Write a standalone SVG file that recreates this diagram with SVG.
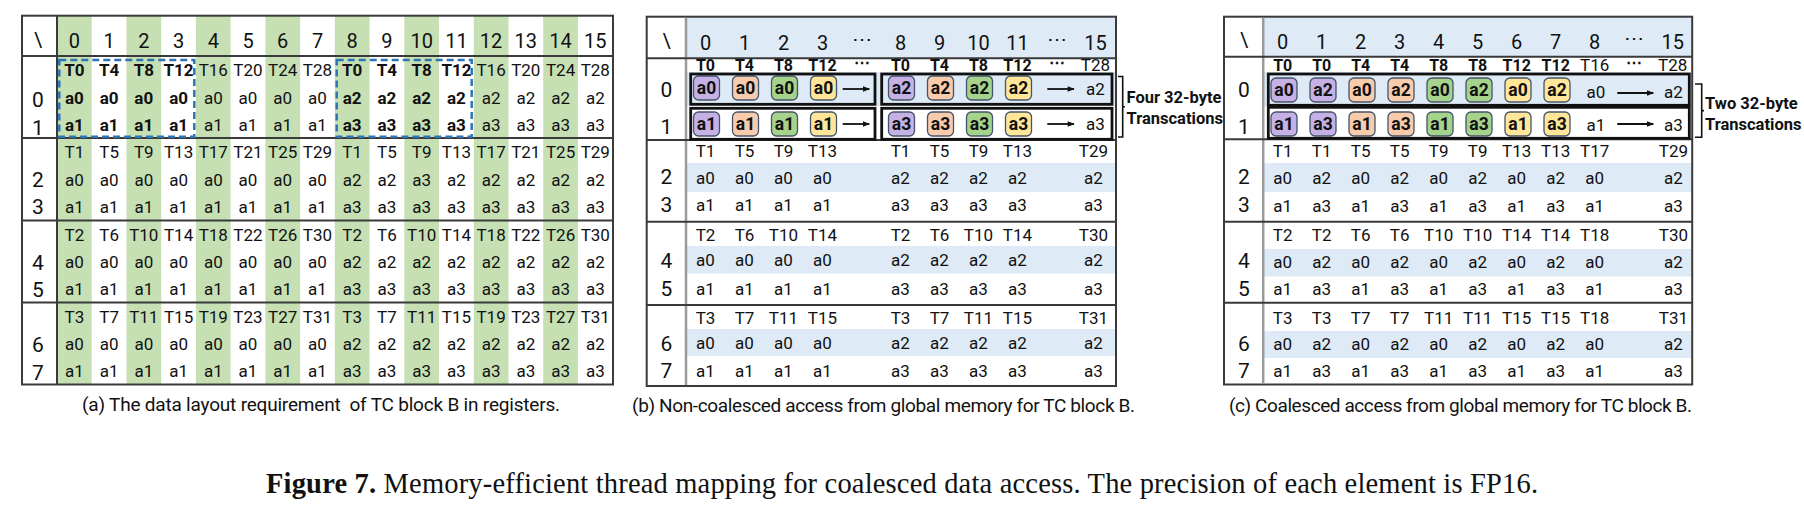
<svg xmlns="http://www.w3.org/2000/svg" width="1804" height="514" viewBox="0 0 1804 514">
<defs>
<style>
text{font-family:Roboto,"Liberation Sans",sans-serif;fill:#111}
.c{font-size:17px;text-anchor:middle;dominant-baseline:central}
.h{font-size:20px;text-anchor:middle;dominant-baseline:central}
.rl{font-size:21px;text-anchor:middle;dominant-baseline:central}
.b{font-weight:bold}
.th{font-size:16px;font-weight:bold;text-anchor:middle;dominant-baseline:central}
.ch{font-size:17.5px;font-weight:bold;text-anchor:middle;dominant-baseline:central}
.cap{font-size:19px;dominant-baseline:central}
.grid{fill:none;stroke:#3a3a3a;stroke-width:2}
.ln{stroke:#3a3a3a;stroke-width:2}
.sep{stroke:#9a9a9a;stroke-width:2.5}
.green{fill:#c6e0b4}
.blue{fill:#deeaf6}
.dash{fill:none;stroke:#2e75b6;stroke-width:2.5;stroke-dasharray:7 4}
.box{fill:none;stroke:#111;stroke-width:2.8}
.k{stroke:#44546a;stroke-width:1.3}
.p{fill:#c5b1e5}.o{fill:#f8cbad}.g{fill:#a5d38c}.y{fill:#ffe699}
.arr{stroke:#111;stroke-width:1.8;marker-end:url(#ah)}
.brk{fill:none;stroke:#111;stroke-width:1.6}
.lab{font-size:16.5px;font-weight:bold;dominant-baseline:central}
</style>
<marker id="ah" viewBox="0 0 10 10" refX="9" refY="5" markerWidth="8" markerHeight="7" orient="auto" markerUnits="userSpaceOnUse"><path d="M0,1 L10,5 L0,9 z" fill="#111"/></marker>
</defs>
<rect width="1804" height="514" fill="#fff"/>

<!-- Panel (a) -->
<g id="panel-a">
<g id="a-stripes">
<rect class="green" x="57" y="15.7" width="34.73" height="368.8"/>
<rect class="green" x="126.5" y="15.7" width="34.73" height="368.8"/>
<rect class="green" x="195.9" y="15.7" width="34.73" height="368.8"/>
<rect class="green" x="265.4" y="15.7" width="34.73" height="368.8"/>
<rect class="green" x="334.8" y="15.7" width="34.73" height="368.8"/>
<rect class="green" x="404.3" y="15.7" width="34.73" height="368.8"/>
<rect class="green" x="473.8" y="15.7" width="34.73" height="368.8"/>
<rect class="green" x="543.2" y="15.7" width="34.73" height="368.8"/>
</g>
<g id="a-grid">
<rect class="grid" x="22" y="15.7" width="591" height="368.8"/>
<line class="ln" x1="57" y1="15.7" x2="57" y2="384.5"/>
<line class="ln" x1="22" y1="56" x2="613" y2="56"/>
<line class="ln" x1="22" y1="138" x2="613" y2="138"/>
<line class="ln" x1="22" y1="220.5" x2="613" y2="220.5"/>
<line class="ln" x1="22" y1="302.5" x2="613" y2="302.5"/>
</g>
<g id="a-header">
<text class="h" x="38" y="40">\</text>
<text class="h" y="41"><tspan x="74.4">0</tspan><tspan x="109.1">1</tspan><tspan x="143.8">2</tspan><tspan x="178.6">3</tspan><tspan x="213.3">4</tspan><tspan x="248">5</tspan><tspan x="282.7">6</tspan><tspan x="317.5">7</tspan><tspan x="352.2">8</tspan><tspan x="386.9">9</tspan><tspan x="421.7">10</tspan><tspan x="456.4">11</tspan><tspan x="491.1">12</tspan><tspan x="525.8">13</tspan><tspan x="560.6">14</tspan><tspan x="595.3">15</tspan></text>
</g>
<g id="a-rowlabels">
<text class="rl" x="38" y="100">0</text><text class="rl" x="38" y="128">1</text>
<text class="rl" x="38" y="180">2</text><text class="rl" x="38" y="207">3</text>
<text class="rl" x="38" y="263">4</text><text class="rl" x="38" y="290">5</text>
<text class="rl" x="38" y="345">6</text><text class="rl" x="38" y="372.5">7</text>
</g>
<g id="a-group0">
<text class="c" y="70"><tspan class="b" x="74.4">T0</tspan><tspan class="b" x="109.1">T4</tspan><tspan class="b" x="143.8">T8</tspan><tspan class="b" x="178.6">T12</tspan><tspan x="213.3">T16</tspan><tspan x="248">T20</tspan><tspan x="282.7">T24</tspan><tspan x="317.5">T28</tspan><tspan class="b" x="352.2">T0</tspan><tspan class="b" x="386.9">T4</tspan><tspan class="b" x="421.7">T8</tspan><tspan class="b" x="456.4">T12</tspan><tspan x="491.1">T16</tspan><tspan x="525.8">T20</tspan><tspan x="560.6">T24</tspan><tspan x="595.3">T28</tspan></text>
<text class="c" y="97.5"><tspan class="b" x="74.4">a0</tspan><tspan class="b" x="109.1">a0</tspan><tspan class="b" x="143.8">a0</tspan><tspan class="b" x="178.6">a0</tspan><tspan x="213.3">a0</tspan><tspan x="248">a0</tspan><tspan x="282.7">a0</tspan><tspan x="317.5">a0</tspan><tspan class="b" x="352.2">a2</tspan><tspan class="b" x="386.9">a2</tspan><tspan class="b" x="421.7">a2</tspan><tspan class="b" x="456.4">a2</tspan><tspan x="491.1">a2</tspan><tspan x="525.8">a2</tspan><tspan x="560.6">a2</tspan><tspan x="595.3">a2</tspan></text>
<text class="c" y="124.5"><tspan class="b" x="74.4">a1</tspan><tspan class="b" x="109.1">a1</tspan><tspan class="b" x="143.8">a1</tspan><tspan class="b" x="178.6">a1</tspan><tspan x="213.3">a1</tspan><tspan x="248">a1</tspan><tspan x="282.7">a1</tspan><tspan x="317.5">a1</tspan><tspan class="b" x="352.2">a3</tspan><tspan class="b" x="386.9">a3</tspan><tspan class="b" x="421.7">a3</tspan><tspan class="b" x="456.4">a3</tspan><tspan x="491.1">a3</tspan><tspan x="525.8">a3</tspan><tspan x="560.6">a3</tspan><tspan x="595.3">a3</tspan></text>
</g>
<g id="a-group1">
<text class="c" y="152"><tspan x="74.4">T1</tspan><tspan x="109.1">T5</tspan><tspan x="143.8">T9</tspan><tspan x="178.6">T13</tspan><tspan x="213.3">T17</tspan><tspan x="248">T21</tspan><tspan x="282.7">T25</tspan><tspan x="317.5">T29</tspan><tspan x="352.2">T1</tspan><tspan x="386.9">T5</tspan><tspan x="421.7">T9</tspan><tspan x="456.4">T13</tspan><tspan x="491.1">T17</tspan><tspan x="525.8">T21</tspan><tspan x="560.6">T25</tspan><tspan x="595.3">T29</tspan></text>
<text class="c" y="179.5"><tspan x="74.4">a0</tspan><tspan x="109.1">a0</tspan><tspan x="143.8">a0</tspan><tspan x="178.6">a0</tspan><tspan x="213.3">a0</tspan><tspan x="248">a0</tspan><tspan x="282.7">a0</tspan><tspan x="317.5">a0</tspan><tspan x="352.2">a2</tspan><tspan x="386.9">a2</tspan><tspan x="421.7">a3</tspan><tspan x="456.4">a2</tspan><tspan x="491.1">a2</tspan><tspan x="525.8">a2</tspan><tspan x="560.6">a2</tspan><tspan x="595.3">a2</tspan></text>
<text class="c" y="206.5"><tspan x="74.4">a1</tspan><tspan x="109.1">a1</tspan><tspan x="143.8">a1</tspan><tspan x="178.6">a1</tspan><tspan x="213.3">a1</tspan><tspan x="248">a1</tspan><tspan x="282.7">a1</tspan><tspan x="317.5">a1</tspan><tspan x="352.2">a3</tspan><tspan x="386.9">a3</tspan><tspan x="421.7">a3</tspan><tspan x="456.4">a3</tspan><tspan x="491.1">a3</tspan><tspan x="525.8">a3</tspan><tspan x="560.6">a3</tspan><tspan x="595.3">a3</tspan></text>
</g>
<g id="a-group2">
<text class="c" y="234.5"><tspan x="74.4">T2</tspan><tspan x="109.1">T6</tspan><tspan x="143.8">T10</tspan><tspan x="178.6">T14</tspan><tspan x="213.3">T18</tspan><tspan x="248">T22</tspan><tspan x="282.7">T26</tspan><tspan x="317.5">T30</tspan><tspan x="352.2">T2</tspan><tspan x="386.9">T6</tspan><tspan x="421.7">T10</tspan><tspan x="456.4">T14</tspan><tspan x="491.1">T18</tspan><tspan x="525.8">T22</tspan><tspan x="560.6">T26</tspan><tspan x="595.3">T30</tspan></text>
<text class="c" y="262"><tspan x="74.4">a0</tspan><tspan x="109.1">a0</tspan><tspan x="143.8">a0</tspan><tspan x="178.6">a0</tspan><tspan x="213.3">a0</tspan><tspan x="248">a0</tspan><tspan x="282.7">a0</tspan><tspan x="317.5">a0</tspan><tspan x="352.2">a2</tspan><tspan x="386.9">a2</tspan><tspan x="421.7">a2</tspan><tspan x="456.4">a2</tspan><tspan x="491.1">a2</tspan><tspan x="525.8">a2</tspan><tspan x="560.6">a2</tspan><tspan x="595.3">a2</tspan></text>
<text class="c" y="289"><tspan x="74.4">a1</tspan><tspan x="109.1">a1</tspan><tspan x="143.8">a1</tspan><tspan x="178.6">a1</tspan><tspan x="213.3">a1</tspan><tspan x="248">a1</tspan><tspan x="282.7">a1</tspan><tspan x="317.5">a1</tspan><tspan x="352.2">a3</tspan><tspan x="386.9">a3</tspan><tspan x="421.7">a3</tspan><tspan x="456.4">a3</tspan><tspan x="491.1">a3</tspan><tspan x="525.8">a3</tspan><tspan x="560.6">a3</tspan><tspan x="595.3">a3</tspan></text>
</g>
<g id="a-group3">
<text class="c" y="316.5"><tspan x="74.4">T3</tspan><tspan x="109.1">T7</tspan><tspan x="143.8">T11</tspan><tspan x="178.6">T15</tspan><tspan x="213.3">T19</tspan><tspan x="248">T23</tspan><tspan x="282.7">T27</tspan><tspan x="317.5">T31</tspan><tspan x="352.2">T3</tspan><tspan x="386.9">T7</tspan><tspan x="421.7">T11</tspan><tspan x="456.4">T15</tspan><tspan x="491.1">T19</tspan><tspan x="525.8">T23</tspan><tspan x="560.6">T27</tspan><tspan x="595.3">T31</tspan></text>
<text class="c" y="344"><tspan x="74.4">a0</tspan><tspan x="109.1">a0</tspan><tspan x="143.8">a0</tspan><tspan x="178.6">a0</tspan><tspan x="213.3">a0</tspan><tspan x="248">a0</tspan><tspan x="282.7">a0</tspan><tspan x="317.5">a0</tspan><tspan x="352.2">a2</tspan><tspan x="386.9">a2</tspan><tspan x="421.7">a2</tspan><tspan x="456.4">a2</tspan><tspan x="491.1">a2</tspan><tspan x="525.8">a2</tspan><tspan x="560.6">a2</tspan><tspan x="595.3">a2</tspan></text>
<text class="c" y="371"><tspan x="74.4">a1</tspan><tspan x="109.1">a1</tspan><tspan x="143.8">a1</tspan><tspan x="178.6">a1</tspan><tspan x="213.3">a1</tspan><tspan x="248">a1</tspan><tspan x="282.7">a1</tspan><tspan x="317.5">a1</tspan><tspan x="352.2">a3</tspan><tspan x="386.9">a3</tspan><tspan x="421.7">a3</tspan><tspan x="456.4">a3</tspan><tspan x="491.1">a3</tspan><tspan x="525.8">a3</tspan><tspan x="560.6">a3</tspan><tspan x="595.3">a3</tspan></text>
</g>
<g id="a-dashed">
<rect class="dash" x="59.3" y="60" width="135" height="76.7"/>
<rect class="dash" x="336.7" y="60" width="135" height="76.7"/>
</g>
<text class="cap" x="82" y="404" textLength="478" lengthAdjust="spacing" xml:space="preserve">(a) The data layout requirement  of TC block B in registers.</text>
</g>

<!-- Panel (b) -->
<g id="panel-b">
<g id="b-bands">
<rect class="blue" x="686" y="16.7" width="430" height="41.6"/>
<rect class="blue" x="686" y="72" width="430" height="34"/>
<rect class="blue" x="686" y="163" width="430" height="29"/>
<rect class="blue" x="686" y="246" width="430" height="27.5"/>
<rect class="blue" x="686" y="329" width="430" height="27"/>
</g>
<g id="b-grid">
<rect class="grid" x="646.7" y="16.7" width="469.3" height="369.3"/>
<line class="sep" x1="686" y1="17.7" x2="686" y2="385"/>
<line class="ln" x1="646.7" y1="58.3" x2="1116" y2="58.3"/>
<line class="ln" x1="646.7" y1="140" x2="1116" y2="140"/>
<line class="ln" x1="646.7" y1="221.7" x2="1116" y2="221.7"/>
<line class="ln" x1="646.7" y1="305" x2="1116" y2="305"/>
</g>
<g id="b-header">
<text class="h" x="666.5" y="41">\</text>
<text class="h" y="43"><tspan x="705.5">0</tspan><tspan x="744.5">1</tspan><tspan x="783.5">2</tspan><tspan x="822.5">3</tspan><tspan x="861.5" dy="-4">⋯</tspan><tspan x="900.5" dy="4">8</tspan><tspan x="939.5">9</tspan><tspan x="978.5">10</tspan><tspan x="1017.5">11</tspan><tspan x="1056.5" dy="-4">⋯</tspan><tspan x="1095.5" dy="4">15</tspan></text>
</g>
<g id="b-rowlabels">
<text class="rl" x="666.5" y="90">0</text><text class="rl" x="666.5" y="126.5">1</text>
<text class="rl" x="666.5" y="177">2</text><text class="rl" x="666.5" y="205">3</text>
<text class="rl" x="666.5" y="261">4</text><text class="rl" x="666.5" y="289">5</text>
<text class="rl" x="666.5" y="344">6</text><text class="rl" x="666.5" y="370.5">7</text>
</g>
<text class="th" y="65"><tspan x="705.5">T0</tspan><tspan x="744.5">T4</tspan><tspan x="783.5">T8</tspan><tspan x="822.5">T12</tspan><tspan x="861.5" dy="-3">⋯</tspan><tspan x="900.5" dy="3">T0</tspan><tspan x="939.5">T4</tspan><tspan x="978.5">T8</tspan><tspan x="1017.5">T12</tspan><tspan x="1056.5" dy="-3">⋯</tspan><tspan x="1095.5" dy="3" font-weight="normal" font-size="17">T28</tspan></text>
<g id="b-chips">
<rect class="k p" x="693.5" y="76" width="26" height="24" rx="5"/><rect class="k o" x="732.5" y="76" width="26" height="24" rx="5"/><rect class="k g" x="771.5" y="76" width="26" height="24" rx="5"/><rect class="k y" x="810.5" y="76" width="26" height="24" rx="5"/>
<rect class="k p" x="888.5" y="76" width="26" height="24" rx="5"/><rect class="k o" x="927.5" y="76" width="26" height="24" rx="5"/><rect class="k g" x="966.5" y="76" width="26" height="24" rx="5"/><rect class="k y" x="1005.5" y="76" width="26" height="24" rx="5"/>
<rect class="k p" x="693.5" y="112" width="26" height="24" rx="5"/><rect class="k o" x="732.5" y="112" width="26" height="24" rx="5"/><rect class="k g" x="771.5" y="112" width="26" height="24" rx="5"/><rect class="k y" x="810.5" y="112" width="26" height="24" rx="5"/>
<rect class="k p" x="888.5" y="112" width="26" height="24" rx="5"/><rect class="k o" x="927.5" y="112" width="26" height="24" rx="5"/><rect class="k g" x="966.5" y="112" width="26" height="24" rx="5"/><rect class="k y" x="1005.5" y="112" width="26" height="24" rx="5"/>
<text class="ch" y="88"><tspan x="706.5">a0</tspan><tspan x="745.5">a0</tspan><tspan x="784.5">a0</tspan><tspan x="823.5">a0</tspan><tspan x="901.5">a2</tspan><tspan x="940.5">a2</tspan><tspan x="979.5">a2</tspan><tspan x="1018.5">a2</tspan></text>
<text class="ch" y="124"><tspan x="706.5">a1</tspan><tspan x="745.5">a1</tspan><tspan x="784.5">a1</tspan><tspan x="823.5">a1</tspan><tspan x="901.5">a3</tspan><tspan x="940.5">a3</tspan><tspan x="979.5">a3</tspan><tspan x="1018.5">a3</tspan></text>
<text class="c" x="1095.5" y="89">a2</text>
<text class="c" x="1095.5" y="124">a3</text>
</g>
<g id="b-boxes">
<rect class="box" x="690.7" y="74" width="184.3" height="30.3"/>
<rect class="box" x="690.7" y="108.3" width="184.3" height="31"/>
<rect class="box" x="881.7" y="74" width="230.3" height="30.3"/>
<rect class="box" x="881.7" y="108.3" width="230.3" height="31"/>
</g>
<g id="b-rows">
<text class="c" y="151"><tspan x="705.5">T1</tspan><tspan x="744.5">T5</tspan><tspan x="783.5">T9</tspan><tspan x="822.5">T13</tspan><tspan x="900.5">T1</tspan><tspan x="939.5">T5</tspan><tspan x="978.5">T9</tspan><tspan x="1017.5">T13</tspan><tspan x="1093.5">T29</tspan></text>
<text class="c" y="177.5"><tspan x="705.5">a0</tspan><tspan x="744.5">a0</tspan><tspan x="783.5">a0</tspan><tspan x="822.5">a0</tspan><tspan x="900.5">a2</tspan><tspan x="939.5">a2</tspan><tspan x="978.5">a2</tspan><tspan x="1017.5">a2</tspan><tspan x="1093.5">a2</tspan></text>
<text class="c" y="205"><tspan x="705.5">a1</tspan><tspan x="744.5">a1</tspan><tspan x="783.5">a1</tspan><tspan x="822.5">a1</tspan><tspan x="900.5">a3</tspan><tspan x="939.5">a3</tspan><tspan x="978.5">a3</tspan><tspan x="1017.5">a3</tspan><tspan x="1093.5">a3</tspan></text>
<text class="c" y="235"><tspan x="705.5">T2</tspan><tspan x="744.5">T6</tspan><tspan x="783.5">T10</tspan><tspan x="822.5">T14</tspan><tspan x="900.5">T2</tspan><tspan x="939.5">T6</tspan><tspan x="978.5">T10</tspan><tspan x="1017.5">T14</tspan><tspan x="1093.5">T30</tspan></text>
<text class="c" y="260"><tspan x="705.5">a0</tspan><tspan x="744.5">a0</tspan><tspan x="783.5">a0</tspan><tspan x="822.5">a0</tspan><tspan x="900.5">a2</tspan><tspan x="939.5">a2</tspan><tspan x="978.5">a2</tspan><tspan x="1017.5">a2</tspan><tspan x="1093.5">a2</tspan></text>
<text class="c" y="289"><tspan x="705.5">a1</tspan><tspan x="744.5">a1</tspan><tspan x="783.5">a1</tspan><tspan x="822.5">a1</tspan><tspan x="900.5">a3</tspan><tspan x="939.5">a3</tspan><tspan x="978.5">a3</tspan><tspan x="1017.5">a3</tspan><tspan x="1093.5">a3</tspan></text>
<text class="c" y="317.5"><tspan x="705.5">T3</tspan><tspan x="744.5">T7</tspan><tspan x="783.5">T11</tspan><tspan x="822.5">T15</tspan><tspan x="900.5">T3</tspan><tspan x="939.5">T7</tspan><tspan x="978.5">T11</tspan><tspan x="1017.5">T15</tspan><tspan x="1093.5">T31</tspan></text>
<text class="c" y="343"><tspan x="705.5">a0</tspan><tspan x="744.5">a0</tspan><tspan x="783.5">a0</tspan><tspan x="822.5">a0</tspan><tspan x="900.5">a2</tspan><tspan x="939.5">a2</tspan><tspan x="978.5">a2</tspan><tspan x="1017.5">a2</tspan><tspan x="1093.5">a2</tspan></text>
<text class="c" y="370.5"><tspan x="705.5">a1</tspan><tspan x="744.5">a1</tspan><tspan x="783.5">a1</tspan><tspan x="822.5">a1</tspan><tspan x="900.5">a3</tspan><tspan x="939.5">a3</tspan><tspan x="978.5">a3</tspan><tspan x="1017.5">a3</tspan><tspan x="1093.5">a3</tspan></text>
</g>
<g id="b-bracket">
<path class="brk" d="M1118,76.5 H1122.7 V137 H1118 M1122.7,106.7 H1125"/>
<text class="lab" x="1126.5" y="97">Four 32-byte</text>
<text class="lab" x="1126.5" y="118">Transcations</text>
</g>
<text class="cap" x="632" y="405" textLength="503" lengthAdjust="spacing">(b) Non-coalesced access from global memory for TC block B.</text>
</g>

<!-- Panel (c) -->
<g id="panel-c">
<g id="c-bands">
<rect class="blue" x="1263.2" y="16.7" width="429" height="40"/>
<rect class="blue" x="1263.2" y="72" width="429" height="34"/>
<rect class="blue" x="1263.2" y="163" width="429" height="29"/>
<rect class="blue" x="1263.2" y="249" width="429" height="27.5"/>
<rect class="blue" x="1263.2" y="331" width="429" height="27"/>
</g>
<g id="c-grid">
<rect class="grid" x="1224" y="16.7" width="468.2" height="367.8"/>
<line class="sep" x1="1263.2" y1="17.7" x2="1263.2" y2="383.5"/>
<line class="ln" x1="1224" y1="56.7" x2="1692.2" y2="56.7"/>
<line class="ln" x1="1224" y1="139.3" x2="1692.2" y2="139.3"/>
<line class="ln" x1="1224" y1="221.7" x2="1692.2" y2="221.7"/>
<line class="ln" x1="1224" y1="302.7" x2="1692.2" y2="302.7"/>
</g>
<g id="c-header">
<text class="h" x="1244" y="40">\</text>
<text class="h" y="42"><tspan x="1282.7">0</tspan><tspan x="1321.7">1</tspan><tspan x="1360.7">2</tspan><tspan x="1399.7">3</tspan><tspan x="1438.7">4</tspan><tspan x="1477.7">5</tspan><tspan x="1516.7">6</tspan><tspan x="1555.7">7</tspan><tspan x="1594.7">8</tspan><tspan x="1633.7" dy="-4">⋯</tspan><tspan x="1672.7" dy="4">15</tspan></text>
</g>
<g id="c-rowlabels">
<text class="rl" x="1244" y="90">0</text><text class="rl" x="1244" y="126.5">1</text>
<text class="rl" x="1244" y="177">2</text><text class="rl" x="1244" y="205">3</text>
<text class="rl" x="1244" y="261">4</text><text class="rl" x="1244" y="289">5</text>
<text class="rl" x="1244" y="344">6</text><text class="rl" x="1244" y="370.5">7</text>
</g>
<text class="th" y="65"><tspan x="1282.7">T0</tspan><tspan x="1321.7">T0</tspan><tspan x="1360.7">T4</tspan><tspan x="1399.7">T4</tspan><tspan x="1438.7">T8</tspan><tspan x="1477.7">T8</tspan><tspan x="1516.7">T12</tspan><tspan x="1555.7">T12</tspan><tspan x="1594.7" font-weight="normal" font-size="17">T16</tspan><tspan x="1633.7" dy="-3">⋯</tspan><tspan x="1672.7" dy="3" font-weight="normal" font-size="17">T28</tspan></text>
<g id="c-chips">
<rect class="k p" x="1271" y="78" width="26" height="24" rx="5"/><rect class="k p" x="1310" y="78" width="26" height="24" rx="5"/><rect class="k o" x="1349" y="78" width="26" height="24" rx="5"/><rect class="k o" x="1388" y="78" width="26" height="24" rx="5"/><rect class="k g" x="1427" y="78" width="26" height="24" rx="5"/><rect class="k g" x="1466" y="78" width="26" height="24" rx="5"/><rect class="k y" x="1505" y="78" width="26" height="24" rx="5"/><rect class="k y" x="1544" y="78" width="26" height="24" rx="5"/>
<rect class="k p" x="1271" y="112" width="26" height="24" rx="5"/><rect class="k p" x="1310" y="112" width="26" height="24" rx="5"/><rect class="k o" x="1349" y="112" width="26" height="24" rx="5"/><rect class="k o" x="1388" y="112" width="26" height="24" rx="5"/><rect class="k g" x="1427" y="112" width="26" height="24" rx="5"/><rect class="k g" x="1466" y="112" width="26" height="24" rx="5"/><rect class="k y" x="1505" y="112" width="26" height="24" rx="5"/><rect class="k y" x="1544" y="112" width="26" height="24" rx="5"/>
<text class="ch" y="90"><tspan x="1284">a0</tspan><tspan x="1323">a2</tspan><tspan x="1362">a0</tspan><tspan x="1401">a2</tspan><tspan x="1440">a0</tspan><tspan x="1479">a2</tspan><tspan x="1518">a0</tspan><tspan x="1557">a2</tspan></text>
<text class="ch" y="124"><tspan x="1284">a1</tspan><tspan x="1323">a3</tspan><tspan x="1362">a1</tspan><tspan x="1401">a3</tspan><tspan x="1440">a1</tspan><tspan x="1479">a3</tspan><tspan x="1518">a1</tspan><tspan x="1557">a3</tspan></text>
<text class="c" y="92"><tspan x="1596">a0</tspan><tspan x="1673.5">a2</tspan></text>
<text class="c" y="125"><tspan x="1596">a1</tspan><tspan x="1673.5">a3</tspan></text>
</g>
<g id="c-boxes">
<rect class="box" x="1268.3" y="74" width="421" height="31.3"/>
<rect class="box" x="1268.3" y="107.3" width="421" height="31"/>
</g>
<g id="c-rows">
<text class="c" y="151"><tspan x="1282.7">T1</tspan><tspan x="1321.7">T1</tspan><tspan x="1360.7">T5</tspan><tspan x="1399.7">T5</tspan><tspan x="1438.7">T9</tspan><tspan x="1477.7">T9</tspan><tspan x="1516.7">T13</tspan><tspan x="1555.7">T13</tspan><tspan x="1594.7">T17</tspan><tspan x="1673.5">T29</tspan></text>
<text class="c" y="177.5"><tspan x="1282.7">a0</tspan><tspan x="1321.7">a2</tspan><tspan x="1360.7">a0</tspan><tspan x="1399.7">a2</tspan><tspan x="1438.7">a0</tspan><tspan x="1477.7">a2</tspan><tspan x="1516.7">a0</tspan><tspan x="1555.7">a2</tspan><tspan x="1594.7">a0</tspan><tspan x="1673.5">a2</tspan></text>
<text class="c" y="206"><tspan x="1282.7">a1</tspan><tspan x="1321.7">a3</tspan><tspan x="1360.7">a1</tspan><tspan x="1399.7">a3</tspan><tspan x="1438.7">a1</tspan><tspan x="1477.7">a3</tspan><tspan x="1516.7">a1</tspan><tspan x="1555.7">a3</tspan><tspan x="1594.7">a1</tspan><tspan x="1673.5">a3</tspan></text>
<text class="c" y="235"><tspan x="1282.7">T2</tspan><tspan x="1321.7">T2</tspan><tspan x="1360.7">T6</tspan><tspan x="1399.7">T6</tspan><tspan x="1438.7">T10</tspan><tspan x="1477.7">T10</tspan><tspan x="1516.7">T14</tspan><tspan x="1555.7">T14</tspan><tspan x="1594.7">T18</tspan><tspan x="1673.5">T30</tspan></text>
<text class="c" y="262"><tspan x="1282.7">a0</tspan><tspan x="1321.7">a2</tspan><tspan x="1360.7">a0</tspan><tspan x="1399.7">a2</tspan><tspan x="1438.7">a0</tspan><tspan x="1477.7">a2</tspan><tspan x="1516.7">a0</tspan><tspan x="1555.7">a2</tspan><tspan x="1594.7">a0</tspan><tspan x="1673.5">a2</tspan></text>
<text class="c" y="289"><tspan x="1282.7">a1</tspan><tspan x="1321.7">a3</tspan><tspan x="1360.7">a1</tspan><tspan x="1399.7">a3</tspan><tspan x="1438.7">a1</tspan><tspan x="1477.7">a3</tspan><tspan x="1516.7">a1</tspan><tspan x="1555.7">a3</tspan><tspan x="1594.7">a1</tspan><tspan x="1673.5">a3</tspan></text>
<text class="c" y="317.5"><tspan x="1282.7">T3</tspan><tspan x="1321.7">T3</tspan><tspan x="1360.7">T7</tspan><tspan x="1399.7">T7</tspan><tspan x="1438.7">T11</tspan><tspan x="1477.7">T11</tspan><tspan x="1516.7">T15</tspan><tspan x="1555.7">T15</tspan><tspan x="1594.7">T18</tspan><tspan x="1673.5">T31</tspan></text>
<text class="c" y="344"><tspan x="1282.7">a0</tspan><tspan x="1321.7">a2</tspan><tspan x="1360.7">a0</tspan><tspan x="1399.7">a2</tspan><tspan x="1438.7">a0</tspan><tspan x="1477.7">a2</tspan><tspan x="1516.7">a0</tspan><tspan x="1555.7">a2</tspan><tspan x="1594.7">a0</tspan><tspan x="1673.5">a2</tspan></text>
<text class="c" y="370.5"><tspan x="1282.7">a1</tspan><tspan x="1321.7">a3</tspan><tspan x="1360.7">a1</tspan><tspan x="1399.7">a3</tspan><tspan x="1438.7">a1</tspan><tspan x="1477.7">a3</tspan><tspan x="1516.7">a1</tspan><tspan x="1555.7">a3</tspan><tspan x="1594.7">a1</tspan><tspan x="1673.5">a3</tspan></text>
</g>
<g id="c-bracket">
<path class="brk" d="M1695,84 H1701.7 V137.3 H1695 M1701.7,110.6 H1704"/>
<text class="lab" x="1705" y="103">Two 32-byte</text>
<text class="lab" x="1705" y="124">Transcations</text>
</g>
<text class="cap" x="1229" y="405" textLength="463" lengthAdjust="spacing">(c) Coalesced access from global memory for TC block B.</text>
</g>

<g id="connectors">
<line class="arr" x1="842.7" y1="89" x2="869.3" y2="89"/>
<line class="arr" x1="842.7" y1="124" x2="869.3" y2="124"/>
<line class="arr" x1="1047.3" y1="89" x2="1074" y2="89"/>
<line class="arr" x1="1047.3" y1="124" x2="1074" y2="124"/>
<line class="arr" x1="1617.3" y1="93" x2="1653.3" y2="93"/>
<line class="arr" x1="1617.3" y1="124" x2="1653.3" y2="124"/>
</g>

<text id="figure-caption" x="902" y="483" text-anchor="middle" dominant-baseline="central" font-size="28.5" textLength="1272" lengthAdjust="spacing" style="font-family:'Liberation Serif',serif"><tspan font-weight="bold">Figure 7.</tspan> Memory-efficient thread mapping for coalesced data access. The precision of each element is FP16.</text>
</svg>
